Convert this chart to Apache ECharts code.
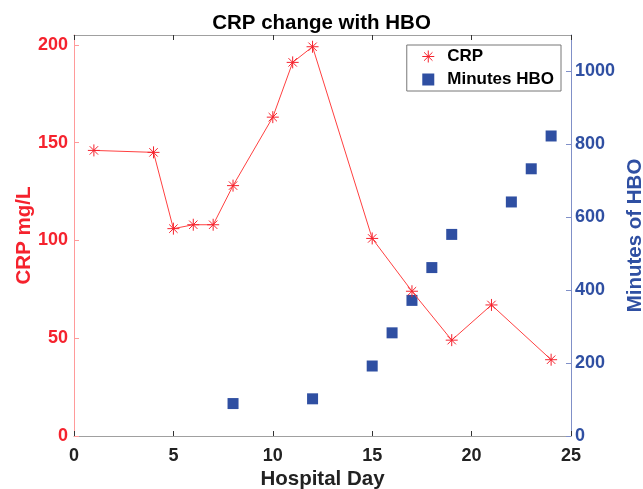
<!DOCTYPE html>
<html>
<head>
<meta charset="utf-8">
<script src="https://cdn.jsdelivr.net/npm/echarts@6/dist/echarts.min.js"></script>
<style>
  html, body { margin: 0; padding: 0; background: #fff; }
  #chart { width: 643px; height: 489px; }
</style>
</head>
<body>
<div id="chart"></div>
<script>
// CRP values (mg/L) by hospital day
const crpDays = [1, 4, 5, 6, 7, 8, 10, 11, 12, 15, 17, 19, 21, 24]
const crpValues = [146, 145, 106, 108, 108, 128, 163, 191, 199, 101, 74, 49, 67, 39]

// cumulative minutes of HBO by hospital day
const hboDays = [8, 12, 15, 16, 17, 18, 19, 22, 23, 24]
const hboMinutes = [89, 102, 192, 283, 372, 462, 553, 642, 733, 823]

const xTicks = [0, 5, 10, 15, 20, 25]
const leftTicks = [0, 50, 100, 150, 200]
const rightTicks = [0, 200, 400, 600, 800, 1000]

const RED = '#f5222d'
const BLUE = '#2f4fa2'
const FONT = '"Liberation Sans", Arial, sans-serif'

// asterisk marker like matlab '*'
const asterisk = 'path://M0,5L10,5M5,0L5,10M1.5,1.5L8.5,8.5M8.5,1.5L1.5,8.5'

const chart = echarts.init(document.getElementById('chart'))

const tickLabel = (color) => ({ color, fontFamily: FONT, fontWeight: 'bold', fontSize: 18 })
const nameStyle = (color) => ({ fontFamily: FONT, fontWeight: 'bold', fontSize: 20.5, color })

const option = {
  animation: false,
  title: {
    text: 'CRP change with HBO',
    left: 'center',
    top: 13,
    padding: 0,
    textStyle: { fontFamily: FONT, fontWeight: 'bold', fontSize: 20.5, color: '#000' }
  },
  legend: {
    right: 82,
    top: 45,
    orient: 'vertical',
    itemGap: 6,
    itemWidth: 12,
    itemHeight: 12,
    padding: [3, 7, 3, 15],
    borderColor: '#777',
    borderWidth: 1,
    textStyle: { fontFamily: FONT, fontWeight: 'bold', fontSize: 17, color: '#000', padding: [0, 0, 0, 8] },
    data: [
      { name: 'CRP', icon: asterisk, itemStyle: { color: 'rgba(0,0,0,0)', borderColor: RED, borderWidth: 1 } },
      { name: 'Minutes HBO', icon: 'rect', itemStyle: { color: BLUE } }
    ]
  },
  grid: { left: 74, right: 72, top: 35, bottom: 53, containLabel: false, outerBoundsMode: 'none' },
  xAxis: [
    {
      type: 'value',
      min: 0, max: 25, interval: 5,
      name: 'Hospital Day',
      nameLocation: 'middle',
      nameGap: 33,
      nameMoveOverlap: false,
      nameTextStyle: nameStyle('#222'),
      axisLine: { onZero: false, lineStyle: { color: '#a0a0a0', width: 1 } },
      axisTick: { inside: true, length: 5, lineStyle: { color: '#333' } },
      axisLabel: Object.assign(tickLabel('#222'), { margin: 11, customValues: xTicks }),
      splitLine: { show: false }
    },
    {
      type: 'value',
      position: 'top',
      min: 0, max: 25, interval: 5,
      axisLine: { onZero: false, lineStyle: { color: '#a0a0a0', width: 1 } },
      axisTick: { inside: true, length: 5, lineStyle: { color: '#333' } },
      axisLabel: { show: false },
      splitLine: { show: false }
    }
  ],
  yAxis: [
    {
      type: 'value',
      min: 0, max: 205,
      name: 'CRP mg/L',
      nameLocation: 'middle',
      nameGap: 39,
      nameMoveOverlap: false,
      nameTextStyle: nameStyle(RED),
      axisLine: { show: true, onZero: false, lineStyle: { color: '#ff9a9a' } },
      axisTick: { inside: true, length: 5, customValues: leftTicks, lineStyle: { color: '#ff9a9a' } },
      axisLabel: Object.assign(tickLabel(RED), { margin: 6, customValues: leftTicks }),
      splitLine: { show: false }
    },
    {
      type: 'value',
      min: 0, max: 1100,
      name: 'Minutes of HBO',
      nameLocation: 'middle',
      nameGap: 54,
      nameMoveOverlap: false,
      nameTextStyle: nameStyle(BLUE),
      axisLine: { show: true, onZero: false, lineStyle: { color: '#8090c8' } },
      axisTick: { inside: true, length: 5, customValues: rightTicks, lineStyle: { color: '#8090c8' } },
      axisLabel: Object.assign(tickLabel(BLUE), { margin: 4, customValues: rightTicks, formatter: (v) => String(v) }),
      splitLine: { show: false }
    }
  ],
  series: [
    {
      name: 'CRP',
      type: 'line',
      yAxisIndex: 0,
      data: crpDays.map((d, i) => [d, crpValues[i]]),
      symbol: asterisk,
      symbolSize: 12,
      itemStyle: { color: 'rgba(0,0,0,0)', borderColor: RED, borderWidth: 1 },
      lineStyle: { color: '#ff4040', width: 1 },
      z: 3
    },
    {
      name: 'Minutes HBO',
      type: 'scatter',
      yAxisIndex: 1,
      data: hboDays.map((d, i) => [d, hboMinutes[i]]),
      symbol: 'rect',
      symbolSize: 11,
      itemStyle: { color: BLUE, opacity: 1 },
      z: 2
    }
  ]
}

chart.setOption(option)
window.onresize = function() {
  chart.resize()
}
</script>
</body>
</html>
